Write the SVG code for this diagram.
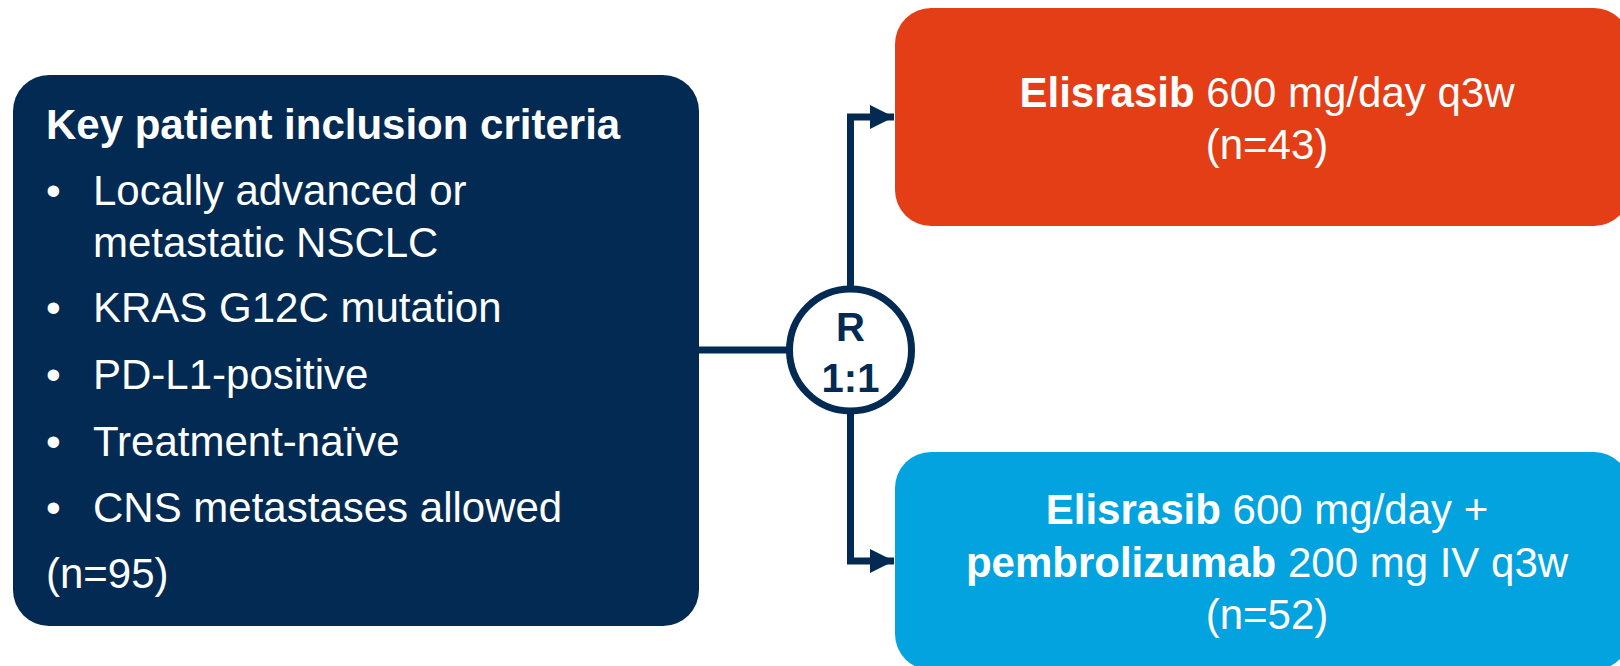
<svg xmlns="http://www.w3.org/2000/svg" width="1620" height="666" viewBox="0 0 1620 666">
<defs>
<style>
.t{font-family:"Liberation Sans",Arial,sans-serif;font-size:42px;fill:#ffffff}
.b{font-weight:bold}
.r{font-family:"Liberation Sans",Arial,sans-serif;font-size:40px;font-weight:bold;fill:#022a52;text-anchor:middle}
.c{text-anchor:middle}
.ln{fill:none;stroke:#022a52;stroke-width:7}
</style>
<marker id="ah" markerUnits="userSpaceOnUse" markerWidth="26" markerHeight="26" refX="24" refY="13" orient="auto">
<path d="M0,1 L24,13 L0,25 Z" fill="#022a52"/>
</marker>
</defs>
<rect width="1620" height="666" fill="#ffffff"/>
<g id="connectors">
<line class="ln" x1="698" y1="350" x2="790" y2="350"/>
<polyline class="ln" points="850.5,287 850.5,117 894,117" marker-end="url(#ah)"/>
<polyline class="ln" points="850.5,413 850.5,561 894,561" marker-end="url(#ah)"/>
</g>
<g id="criteria">
<rect x="13" y="75" width="686" height="551" rx="36" fill="#022a52"/>
<text class="t b" x="46" y="139">Key patient inclusion criteria</text>
<text class="t" x="46" y="205">•</text>
<text class="t" x="93" y="205">Locally advanced or</text>
<text class="t" x="93" y="257">metastatic NSCLC</text>
<text class="t" x="46" y="322">•</text>
<text class="t" x="93" y="322">KRAS G12C mutation</text>
<text class="t" x="46" y="389">•</text>
<text class="t" x="93" y="389">PD-L1-positive</text>
<text class="t" x="46" y="456">•</text>
<text class="t" x="93" y="456">Treatment-naïve</text>
<text class="t" x="46" y="522">•</text>
<text class="t" x="93" y="522">CNS metastases allowed</text>
<text class="t" x="46" y="588">(n=95)</text>
</g>
<g id="randomize">
<circle cx="850.5" cy="350" r="61" fill="#ffffff" stroke="#022a52" stroke-width="7"/>
<text class="r" x="850.5" y="341">R</text>
<text class="r" x="850.5" y="392">1:1</text>
</g>
<g id="arm1">
<rect x="895" y="8" width="735" height="218" rx="36" fill="#e43e16"/>
<text class="t c" x="1267" y="107"><tspan class="b">Elisrasib</tspan> 600 mg/day q3w</text>
<text class="t c" x="1267" y="159">(n=43)</text>
</g>
<g id="arm2">
<rect x="895" y="452" width="735" height="218" rx="36" fill="#03a3e0"/>
<text class="t c" x="1267" y="524"><tspan class="b">Elisrasib</tspan> 600 mg/day +</text>
<text class="t c" x="1267" y="577"><tspan class="b">pembrolizumab</tspan> 200 mg IV q3w</text>
<text class="t c" x="1267" y="629">(n=52)</text>
</g>
</svg>
